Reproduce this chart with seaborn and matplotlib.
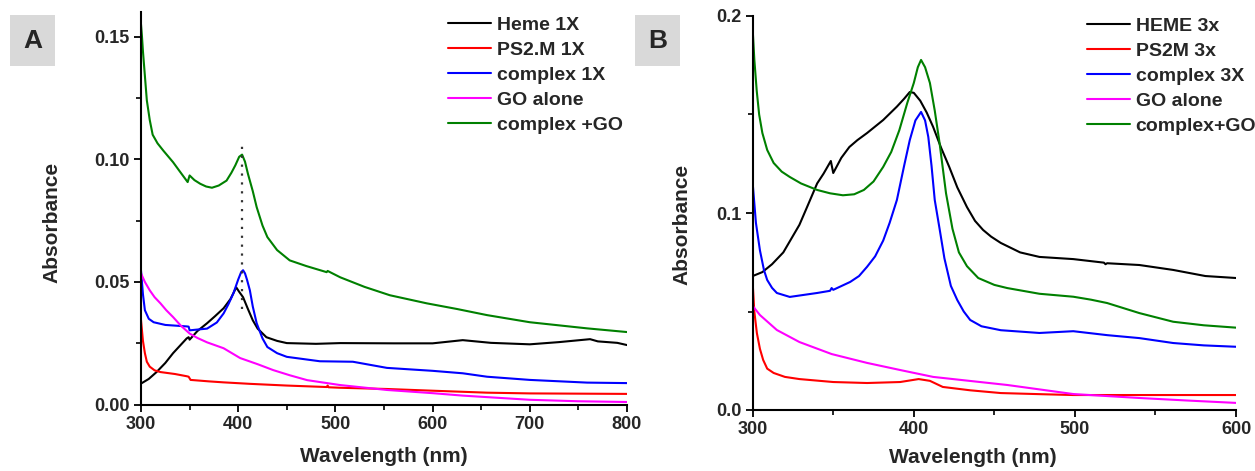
import numpy as np
import pandas as pd
import matplotlib
matplotlib.use("Agg")
import matplotlib.pyplot as plt
import seaborn as sns
from matplotlib.patches import Rectangle
from matplotlib.ticker import AutoMinorLocator

# -------- data: panel A --------
a_heme_wl = [300, 308, 316, 325, 333, 340, 347, 349, 350, 358, 368, 376, 385, 392, 398,
             401, 405, 410, 415, 420, 429, 440, 450, 480, 505, 560, 600, 631, 660, 700,
             730, 762, 770, 790, 800]
a_heme_ab = [0.0086, 0.0105, 0.0133, 0.017, 0.021, 0.024, 0.027, 0.0275, 0.0265, 0.030,
             0.0332, 0.036, 0.0393, 0.043, 0.0478, 0.046, 0.0438, 0.039, 0.0344, 0.031,
             0.0275, 0.026, 0.0251, 0.0248, 0.0251, 0.025, 0.025, 0.0263, 0.0252, 0.0246,
             0.0255, 0.0267, 0.0258, 0.0252, 0.0243]

a_ps2m_wl = [300, 302, 304, 306, 309, 314, 320, 335, 347, 349, 351, 370, 385, 412, 450,
             491, 492, 493, 505, 553, 600, 656, 700, 750, 800]
a_ps2m_ab = [0.0345, 0.026, 0.021, 0.0175, 0.0155, 0.014, 0.0133, 0.0125, 0.0116, 0.0114,
             0.0101, 0.0095, 0.0091, 0.0085, 0.0078, 0.0072, 0.0078, 0.0071, 0.0069, 0.0064,
             0.0057, 0.0049, 0.0046, 0.0045, 0.0044]

a_cplx_wl = [300, 302, 304, 308, 313, 325, 347, 349, 350, 368, 378, 385, 390, 395, 400,
             403, 405, 407, 409, 412, 415, 419, 425, 430, 440, 450, 484, 518, 553, 600,
             631, 656, 700, 759, 800]
a_cplx_ab = [0.0547, 0.045, 0.0385, 0.035, 0.0336, 0.0325, 0.0319, 0.0318, 0.0303, 0.031,
             0.0335, 0.0372, 0.041, 0.0453, 0.051, 0.054, 0.0548, 0.0535, 0.051, 0.0466,
             0.040, 0.0332, 0.027, 0.0235, 0.021, 0.0195, 0.0177, 0.0175, 0.015, 0.0138,
             0.0128, 0.0114, 0.0101, 0.009, 0.0088]

a_go_wl = [300, 304, 309, 314, 320, 326, 333, 341, 350, 358, 368, 385, 402, 420, 436, 453,
           471, 505, 553, 600, 631, 700, 750, 800]
a_go_ab = [0.0535, 0.050, 0.0466, 0.0438, 0.0413, 0.0385, 0.0357, 0.0322, 0.029, 0.0272,
           0.0254, 0.023, 0.019, 0.0165, 0.0141, 0.012, 0.010, 0.008, 0.006, 0.0047,
           0.0037, 0.002, 0.0014, 0.0011]

a_cgo_wl = [300, 301, 302, 304, 306, 309, 312, 317, 323, 333, 340, 348, 350, 355, 361,
            367, 373, 380, 388, 393, 397, 401, 404, 407, 410, 415, 419, 425, 430, 440,
            453, 470, 491, 492, 505, 530, 556, 594, 625, 656, 700, 759, 800]
a_cgo_ab = [0.155, 0.150, 0.144, 0.134, 0.124, 0.116, 0.110, 0.1065, 0.1035, 0.0988,
            0.095, 0.0907, 0.0934, 0.0915, 0.0900, 0.0889, 0.0884, 0.0893, 0.0913, 0.0945,
            0.0975, 0.101, 0.1019, 0.099, 0.0941, 0.087, 0.0805, 0.073, 0.0683, 0.063,
            0.0588, 0.0565, 0.054, 0.0545, 0.0519, 0.048, 0.0446, 0.0413, 0.039, 0.0365,
            0.0336, 0.0311, 0.0296]

a_labels = ["Heme 1X", "PS2.M 1X", "complex 1X", "GO alone", "complex +GO"]

# -------- data: panel B --------
b_heme_wl = [300, 306, 312, 319, 324, 329, 334, 340, 344, 348.5, 350, 355, 360, 365, 371,
             381, 389.5, 394, 397.5, 400, 404, 408, 412, 417, 422, 427, 433, 438, 443,
             448, 454, 466, 478, 499, 518, 519, 520, 540, 561, 581, 600]
b_heme_ab = [0.068, 0.070, 0.074, 0.080, 0.087, 0.094, 0.1035, 0.115, 0.12, 0.1264,
             0.1203, 0.128, 0.1335, 0.137, 0.1406, 0.1472, 0.154, 0.158, 0.1614, 0.161,
             0.157, 0.151, 0.1437, 0.133, 0.1234, 0.113, 0.103, 0.096, 0.0914, 0.088,
             0.0848, 0.080, 0.0777, 0.0766, 0.0748, 0.0740, 0.0745, 0.0736, 0.0711, 0.068,
             0.067]

b_ps2m_wl = [300, 301, 302.6, 304.5, 306.5, 309, 313, 320, 329, 350, 371, 391.5, 403, 410,
             418, 435, 454, 480, 499, 540, 600]
b_ps2m_ab = [0.0643, 0.050, 0.039, 0.031, 0.0254, 0.021, 0.0188, 0.0168, 0.0157, 0.0142,
             0.0137, 0.0142, 0.0157, 0.0148, 0.0117, 0.010, 0.0086, 0.008, 0.0076, 0.0076,
             0.0076]

b_cplx_wl = [300, 302, 304.5, 307, 309, 312, 315, 323, 340, 348, 349, 350, 360.5, 366,
             371, 376, 381, 385, 389.5, 394, 397.5, 401, 404.5, 407, 409, 411, 413, 416,
             419, 423, 427, 431, 435, 442, 454, 478, 499, 520, 540, 561, 580, 600]
b_cplx_ab = [0.115, 0.095, 0.081, 0.071, 0.066, 0.062, 0.0594, 0.0574, 0.0594, 0.0605,
             0.0619, 0.061, 0.065, 0.068, 0.0727, 0.078, 0.086, 0.095, 0.1066, 0.124,
             0.137, 0.147, 0.1513, 0.147, 0.1386, 0.124, 0.1066, 0.092, 0.077, 0.063,
             0.0558, 0.050, 0.0457, 0.0425, 0.0405, 0.0391, 0.040, 0.038, 0.0365, 0.034,
             0.0328, 0.0321]

b_go_wl = [300, 304.5, 315, 329, 349, 371, 391.5, 412, 440, 458, 499, 540, 570, 600]
b_go_ab = [0.0528, 0.0482, 0.0406, 0.0345, 0.0284, 0.0239, 0.0203, 0.0168, 0.0143, 0.0127,
           0.0081, 0.0061, 0.0048, 0.0036]

b_cgo_wl = [300, 301, 302.5, 304, 306, 309, 313, 318, 323, 330, 340, 348, 356, 363, 369,
            375, 381, 386, 391, 396, 400, 402.5, 404.5, 407, 410, 413, 416, 420, 424, 428,
            433, 440, 450, 458, 478, 499, 510, 520, 540, 561, 580, 600]
b_cgo_ab = [0.193, 0.178, 0.162, 0.150, 0.1406, 0.132, 0.1254, 0.121, 0.1183, 0.115,
            0.1117, 0.110, 0.109, 0.1095, 0.1117, 0.116, 0.1234, 0.131, 0.142, 0.156,
            0.166, 0.174, 0.1777, 0.174, 0.166, 0.152, 0.1355, 0.110, 0.092, 0.080, 0.073,
            0.067, 0.0635, 0.0619, 0.059, 0.0575, 0.056, 0.0543, 0.0492, 0.0448, 0.043,
            0.0418]

b_labels = ["HEME 3x", "PS2M 3x", "complex 3X", "GO alone", "complex+GO"]

colors = ["black", "#ff0000", "#0000ff", "#ff00ff", "#008000"]


def make_df(wls, abss, labels):
    parts = []
    for wl, ab, lab in zip(wls, abss, labels):
        parts.append(pd.DataFrame({"wl": wl, "abs": ab, "series": lab}))
    return pd.concat(parts, ignore_index=True)


df_a = make_df([a_heme_wl, a_ps2m_wl, a_cplx_wl, a_go_wl, a_cgo_wl],
               [a_heme_ab, a_ps2m_ab, a_cplx_ab, a_go_ab, a_cgo_ab], a_labels)
df_b = make_df([b_heme_wl, b_ps2m_wl, b_cplx_wl, b_go_wl, b_cgo_wl],
               [b_heme_ab, b_ps2m_ab, b_cplx_ab, b_go_ab, b_cgo_ab], b_labels)

# -------- style --------
sns.set_style("ticks")
plt.rcParams["font.family"] = ["Liberation Sans", "DejaVu Sans"]
plt.rcParams["font.weight"] = "bold"
plt.rcParams["axes.labelweight"] = "bold"

fig = plt.figure(figsize=(12.55, 4.71), dpi=100)
W, H = 1255, 471
ax_a = fig.add_axes([141 / W, 1 - 404.7 / H, 486 / W, 392.7 / H])
ax_b = fig.add_axes([752.7 / W, 1 - 410 / H, 483.3 / W, 394 / H])

for ax, df, labels in [(ax_a, df_a, a_labels), (ax_b, df_b, b_labels)]:
    sns.lineplot(data=df, x="wl", y="abs", hue="series", hue_order=labels,
                 palette=colors, sort=False, estimator=None, linewidth=1.5,
                 legend=False, ax=ax)
    sns.despine(ax=ax)
    for s in ["left", "bottom"]:
        ax.spines[s].set_linewidth(1.5)
        ax.spines[s].set_color("black")
    ax.xaxis.set_minor_locator(AutoMinorLocator(2))
    ax.yaxis.set_minor_locator(AutoMinorLocator(2))
    ax.tick_params(which="major", direction="out", length=5, width=1.3,
                   labelsize=13, pad=3, color="black")
    ax.tick_params(which="minor", direction="out", length=3.5, width=1.2, color="black")
    ax.set_xlabel("Wavelength (nm)", fontsize=15, fontweight="bold")
    ax.set_ylabel("Absorbance", fontsize=15, fontweight="bold")

# panel A axes
ax_a.set_xlim(300, 800)
ax_a.set_ylim(0, 0.16)
ax_a.set_xticks([300, 400, 500, 600, 700, 800])
ax_a.set_yticks([0.0, 0.05, 0.10, 0.15])
ax_a.set_yticklabels(["0.00", "0.05", "0.10", "0.15"], fontweight="bold")
ax_a.set_xticklabels(["300", "400", "500", "600", "700", "800"], fontweight="bold")
ax_a.yaxis.set_label_coords(-0.163, 0.465)
ax_a.xaxis.set_label_coords(0.5, -0.108)

# panel B axes
ax_b.set_xlim(300, 600)
ax_b.set_ylim(0, 0.2)
ax_b.set_xticks([300, 400, 500, 600])
ax_b.set_yticks([0.0, 0.1, 0.2])
ax_b.set_yticklabels(["0.0", "0.1", "0.2"], fontweight="bold")
ax_b.set_xticklabels(["300", "400", "500", "600"], fontweight="bold")
ax_b.yaxis.set_label_coords(-0.126, 0.472)
ax_b.xaxis.set_label_coords(0.455, -0.096)

# legends
leg_kw = dict(loc="upper left", frameon=False, fontsize=14, handlelength=2.2,
              handletextpad=0.3, labelspacing=0.38, borderpad=0, borderaxespad=0)
fig.legend(ax_a.lines[:5], a_labels, bbox_to_anchor=(448 / W, 1 - 16 / H), **leg_kw)
fig.legend(ax_b.lines[:5], b_labels, bbox_to_anchor=(1087 / W, 1 - 17 / H), **leg_kw)

# dotted marker at the Soret peak
ax_a.vlines(404, 0.039, 0.106, colors="#333333", linestyles=(0, (1, 3)), linewidth=1.6)

# panel letters
for x0, letter in [(10, "A"), (635, "B")]:
    fig.patches.append(Rectangle((x0 / W, 1 - 66 / H), 45 / W, 51 / H,
                                 transform=fig.transFigure, facecolor="#d9d9d9",
                                 edgecolor="none"))
    fig.text((x0 + 22.5) / W, 1 - 40.5 / H, letter, ha="center", va="center",
             fontsize=19, fontweight="bold")

fig.savefig("out.png", dpi=100)
